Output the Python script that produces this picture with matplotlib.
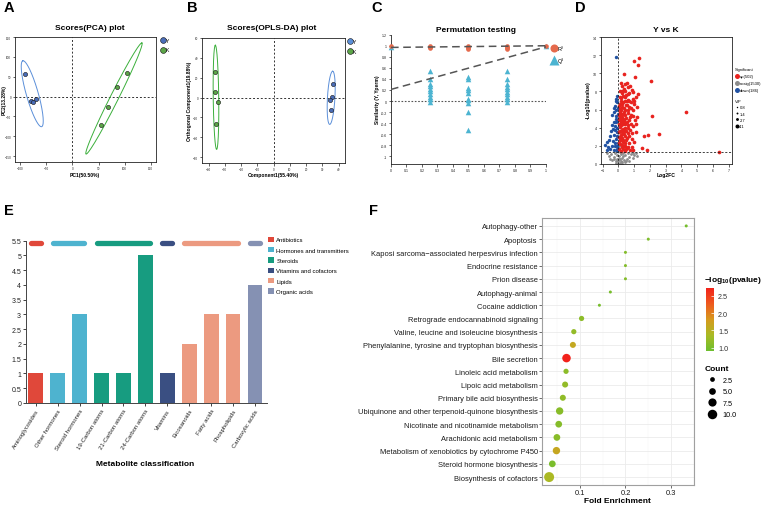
import numpy as np
import matplotlib
matplotlib.use('Agg')
import matplotlib.pyplot as plt
from matplotlib.colors import LinearSegmentedColormap, Normalize
from matplotlib.lines import Line2D
from matplotlib.patches import Patch
import matplotlib.colorbar as mcolorbar

plt.rcParams['font.family'] = ['Liberation Sans', 'DejaVu Sans']
plt.rcParams['mathtext.fontset'] = 'custom'
plt.rcParams['mathtext.rm'] = 'Liberation Sans'
plt.rcParams['mathtext.bf'] = 'Liberation Sans:bold'

# ---------------- DATA ----------------
# A: PCA scores
pca_Y_pc1 = [-90, -80, -76, -69]
pca_Y_pc2 = [56, -11, -15, -7]
pca_K_pc1 = [55, 69, 85, 105]
pca_K_pc2 = [-72, -27, 24, 59]
pca_ell_Y = dict(center=(-77, 7), a=(-18, 83), b=(11, 4))
pca_ell_K = dict(center=(79.5, -5), a=(53.5, 140), b=(7, -4.5))

# B: OPLS-DA scores
opls_K_c1 = [-35.8, -36.2, -34.3, -35.6]
opls_K_o1 = [25.5, 5.1, -4.4, -26.2]
opls_Y_c1 = [36.6, 36.2, 34.7, 35.6]
opls_Y_o1 = [13.6, 0.7, -2.0, -12.6]
opls_ell_K = dict(center=(-35.4, 0.2), a=(-0.4, 52.5), b=(1.7, 0))
opls_ell_Y = dict(center=(35.5, -0.3), a=(0.9, 26.8), b=(2.3, 0))

# C: permutation test
perm_r2_x = [0, 0.25, 0.25, 0.25, 0.25, 0.5, 0.5, 0.5, 0.5, 0.75, 0.75, 0.75, 0.75, 1]
perm_r2 = [1.0, 0.99, 0.98, 0.97, 0.96, 0.99, 0.98, 0.96, 0.95, 0.99, 0.98, 0.96, 0.94, 1.0]
perm_q2_x = [0] + [0.25] * 10 + [0.5] * 10 + [0.75] * 10 + [1]
perm_q2 = ([0.98]
           + [0.55, 0.40, 0.31, 0.27, 0.22, 0.18, 0.13, 0.08, 0.04, -0.02]
           + [0.44, 0.40, 0.24, 0.20, 0.15, 0.04, 0.01, -0.03, -0.20, -0.52]
           + [0.55, 0.40, 0.30, 0.26, 0.22, 0.17, 0.12, 0.07, 0.03, -0.02]
           + [0.99])
r2_line = [0.97, 1.00]   # value at x=0 and x=1
q2_line = [0.21, 0.98]

# D: volcano
up_fc = [1.33, 1.01, 1.24, 0.38, 2.07, 1.05, 1.27, 4.26, 2.10, 1.18, 2.57, 1.90, 1.62, 1.48, 1.81, 6.37, 0.95,
         0.15, 0.25, 0.45, 0.55, 0.62, 0.75, 0.85, 0.35, 0.12, 0.95, 1.10, 0.20, 0.50, 0.70, 0.30, 0.08, 0.90,
         0.60, 0.40, 0.15, 0.80, 1.00, 0.25, 0.55, 0.05, 0.35, 0.70, 0.18, 0.45, 0.90, 0.10, 0.60, 0.30, 0.80,
         0.22, 0.50, 0.05, 0.38, 1.05, 0.70, 0.15, 0.28, 0.58, 0.90, 0.10, 0.45, 0.20, 0.75, 0.33, 0.05, 0.60,
         1.10, 0.15, 0.42, 0.25, 0.85, 0.08, 0.50, 0.30, 0.65, 0.12, 0.40, 0.20, 0.55, 0.06, 0.30, 0.75, 0.15,
         0.45, 0.03, 0.04, 0.06, 0.07, 0.09, 0.11, 0.13, 0.14, 0.17, 0.19, 0.21, 0.23, 0.24, 0.27, 0.29, 0.31,
         0.32, 0.34, 0.36, 0.37, 0.39, 0.41, 0.43, 0.47, 0.48, 0.52, 0.53, 0.57, 0.59, 0.63, 0.66, 0.68, 0.72,
         0.78, 0.82, 0.87, 0.93, 0.98, 1.02, 1.12, 1.15, 0.16, 0.26, 0.44, 0.64, 0.10, 0.20, 0.36, 0.48, 0.62,
         0.88, 0.12, 0.26, 0.09, 0.40]
up_p = [11.74, 11.33, 10.96, 9.90, 9.20, 9.60, 7.74, 5.70, 5.26, 5.15, 3.33, 3.15, 3.04, 1.74, 1.56, 1.33, 1.56,
        8.9, 8.6, 8.8, 8.9, 8.5, 8.6, 8.2, 8.3, 8.1, 7.9, 7.4, 7.8, 7.6, 7.8, 7.5, 7.4, 7.2,
        7.1, 7.0, 6.9, 6.8, 6.6, 6.6, 6.5, 6.4, 6.2, 6.3, 6.0, 5.9, 6.0, 5.7, 5.6, 5.5, 5.4,
        5.2, 5.1, 5.0, 4.9, 4.8, 4.8, 4.6, 4.4, 4.3, 4.2, 4.1, 4.0, 3.8, 3.7, 3.6, 3.5, 3.4,
        3.5, 3.2, 3.1, 2.9, 2.8, 2.7, 2.6, 2.4, 2.3, 2.2, 2.0, 1.9, 1.8, 1.7, 1.6, 1.5, 1.45,
        1.4, 2.3, 3.0, 4.4, 5.4, 6.1, 3.6, 4.9, 2.6, 5.5, 4.3, 3.3, 6.3, 2.1, 5.0, 3.9, 6.8,
        2.7, 4.6, 5.7, 3.3, 7.4, 2.3, 5.4, 6.5, 3.6, 4.6, 7.0, 2.9, 5.9, 4.0, 6.9, 3.1, 5.2,
        4.4, 6.2, 3.4, 5.3, 2.4, 7.0, 4.4, 6.3, 7.3, 8.0, 8.1, 7.7, 6.6, 4.9, 2.0, 1.6, 1.9,
        1.9, 3.0, 3.6, 5.2, 4.4]
down_fc = [-0.17, -0.53, -0.70, -0.84, -0.38, -0.45, -0.60, -0.30, -0.25, -0.20, -0.15, -0.10, -0.08, -0.12,
           -0.05, -0.18, -0.22, -0.06, -0.10, -0.28, -0.15, -0.35, -0.05, -0.40, -0.20, -0.10, -0.50, -0.30,
           -0.08, -0.04, -0.14, -0.32, -0.24, -0.06, -0.13, -0.20, -0.42, -0.65, -0.75, -0.03, -0.09, -0.27,
           -0.12]
down_p = [11.8, 3.1, 2.4, 2.1, 5.4, 3.6, 2.6, 4.6, 5.7, 6.4, 7.2, 7.5, 6.8, 6.0,
          5.5, 5.0, 4.2, 4.0, 3.5, 3.2, 2.8, 2.5, 2.3, 2.0, 2.0, 1.7, 1.6, 1.5,
          1.4, 6.2, 4.6, 3.9, 2.3, 3.1, 5.3, 3.7, 4.3, 1.9, 1.5, 4.8, 2.0, 6.2,
          7.0]
nosig_fc = [-0.60, -0.45, -0.30, -0.20, -0.10, 0.00, 0.05, 0.10, 0.15, 0.20, 0.25, 0.30, 0.35, 0.45, 0.55,
            0.65, 0.80, 0.95, 1.10, 1.20, -0.05, 0.02, -0.02, 0.04, -0.15, 0.08, -0.25, 0.40, 0.60, 0.12,
            -0.38, 0.00, 0.18, -0.08, 0.28, 0.50, 0.70, -0.50, 1.00, 0.22, -0.12, 0.06, 0.90, -0.75]
nosig_p = [0.9, 1.1, 0.8, 1.2, 0.6, 0.3, 0.9, 0.5, 1.1, 0.7, 0.2, 0.9, 0.4, 1.0, 0.6,
           0.8, 1.1, 0.7, 1.2, 0.9, 1.5, 2.0, 1.8, 1.6, 0.3, 0.1, 0.5, 0.2, 1.2, 1.3,
           0.4, 0.05, 0.3, 0.95, 1.2, 0.35, 0.3, 0.6, 1.0, 0.05, 0.15, 0.6, 1.25, 1.2]
p_cut = 1.3

# E: metabolite classification
met_classes = ["Aminoglycosides", "Other hormones", "Steroid hormones", "19-Carbon atoms",
               "21-Carbon atoms", "24-Carbon atoms", "Vitamins", "Eicosanoids", "Fatty acids",
               "Phospholipids", "Carboxylic acids"]
met_counts = [1, 1, 3, 1, 1, 5, 1, 2, 3, 3, 4]
met_groups = ["Antibiotics", "Hormones and transmitters", "Hormones and transmitters", "Steroids",
              "Steroids", "Steroids", "Vitamins and cofactors", "Lipids", "Lipids", "Lipids",
              "Organic acids"]
group_names = ["Antibiotics", "Hormones and transmitters", "Steroids", "Vitamins and cofactors",
               "Lipids", "Organic acids"]
group_colors = ["#E0483A", "#4EB3CF", "#179C80", "#3A4F82", "#EC9A80", "#8591B3"]

# F: KEGG enrichment
pathways = ["Autophagy-other", "Apoptosis", "Kaposi sarcoma\u2212associated herpesvirus infection",
            "Endocrine resistance", "Prion disease", "Autophagy-animal", "Cocaine addiction",
            "Retrograde endocannabinoid signaling", "Valine, leucine and isoleucine biosynthesis",
            "Phenylalanine, tyrosine and tryptophan biosynthesis", "Bile secretion",
            "Linoleic acid metabolism", "Lipoic acid metabolism", "Primary bile acid biosynthesis",
            "Ubiquinone and other terpenoid-quinone biosynthesis",
            "Nicotinate and nicotinamide metabolism", "Arachidonic acid metabolism",
            "Metabolism of xenobiotics by cytochrome P450", "Steroid hormone biosynthesis",
            "Biosynthesis of cofactors"]
fold_enrich = [0.333, 0.25, 0.2, 0.2, 0.2, 0.167, 0.143, 0.104, 0.087, 0.085, 0.071,
               0.070, 0.068, 0.063, 0.056, 0.054, 0.050, 0.049, 0.040, 0.033]
path_count = [1, 1, 1, 1, 1, 1, 1, 3, 3, 4, 8, 3, 4, 4, 6, 5, 5, 6, 5, 11]
path_logp = [0.98, 1.05, 1.08, 1.08, 1.08, 1.0, 1.0, 1.15, 1.2, 1.62, 2.72, 1.15, 1.2, 1.18,
             1.12, 1.1, 1.12, 1.65, 1.02, 1.38]
count_breaks = [2.5, 5.0, 7.5, 10.0]
logp_breaks = [1.0, 1.5, 2.0, 2.5]

# ---------------- FIGURE ----------------
W, H = 765, 506
fig = plt.figure(figsize=(W / 100, H / 100), dpi=100)


def axpx(l, t, r, b):
    return fig.add_axes([l / W, 1 - b / H, (r - l) / W, (b - t) / H])


def ftext(x, y, s, **kw):
    kw.setdefault('ha', 'center')
    kw.setdefault('va', 'center')
    return fig.text(x / W, 1 - y / H, s, **kw)


def figanchor(x, y):
    return (x / W, 1 - y / H)


tt = np.linspace(0, 2 * np.pi, 300)


def draw_ellipse(ax, e, color):
    cx, cy = e['center']
    ax.plot(cx + e['a'][0] * np.cos(tt) + e['b'][0] * np.sin(tt),
            cy + e['a'][1] * np.cos(tt) + e['b'][1] * np.sin(tt), color=color, lw=0.7)


def small_box(ax, fs):
    for s in ax.spines.values():
        s.set_linewidth(0.6)
        s.set_color('#222222')
    ax.tick_params(labelsize=fs, length=1.8, width=0.5, pad=1, colors='#222222')


blue_pt = '#4A6DB8'
green_pt = '#5CA548'
blue_ell = '#5B8FD9'
green_ell = '#3BAF3B'

# Panel letters
for (lx, ly, L) in [(8.5, 8, 'A'), (192.5, 8, 'B'), (377, 8, 'C'), (580, 8, 'D'), (8.5, 211, 'E'), (374, 211, 'F')]:
    ftext(lx, ly, L, fontsize=10.5, fontweight='bold')

# ---- A ----
axA = axpx(15, 38, 156, 163)
axA.axhline(0, color='#333333', lw=0.7, ls=(0, (2, 2)))
axA.axvline(0, color='#333333', lw=0.7, ls=(0, (2, 2)))
draw_ellipse(axA, pca_ell_Y, blue_ell)
draw_ellipse(axA, pca_ell_K, green_ell)
axA.scatter(pca_Y_pc1, pca_Y_pc2, s=9, c=blue_pt, edgecolors='#111111', linewidths=0.4, zorder=3)
axA.scatter(pca_K_pc1, pca_K_pc2, s=9, c=green_pt, edgecolors='#111111', linewidths=0.4, zorder=3)
axA.set_xlim(-110, 160)
axA.set_ylim(-165, 150)
axA.set_xticks([-100, -50, 0, 50, 100, 150])
axA.set_yticks([-150, -100, -50, 0, 50, 100, 150])
small_box(axA, 2.2)
ftext(90, 29, 'Scores(PCA) plot', fontsize=6, fontweight='bold')
ftext(85, 175, 'PC1(50.50%)', fontsize=3.6, fontweight='bold')
ftext(4, 100, 'PC2(13.28%)', fontsize=3.6, fontweight='bold', rotation=90)
hA = [Line2D([], [], marker='o', ls='', ms=4.2, mfc=blue_pt, mec='#111111', mew=0.4),
      Line2D([], [], marker='o', ls='', ms=4.2, mfc=green_pt, mec='#111111', mew=0.4)]
fig.legend(hA, ['Y', 'K'], loc='upper left', bbox_to_anchor=figanchor(160, 39), frameon=False,
           fontsize=3.6, handlelength=1.0, handletextpad=0.2, labelspacing=0.9, borderpad=0, borderaxespad=0)

# ---- B ----
axB = axpx(202, 39, 345, 164)
axB.axhline(0, color='#333333', lw=0.7, ls=(0, (2, 2)))
axB.axvline(0, color='#333333', lw=0.7, ls=(0, (2, 2)))
draw_ellipse(axB, opls_ell_K, green_ell)
draw_ellipse(axB, opls_ell_Y, blue_ell)
axB.scatter(opls_K_c1, opls_K_o1, s=9, c=green_pt, edgecolors='#111111', linewidths=0.4, zorder=3)
axB.scatter(opls_Y_c1, opls_Y_o1, s=9, c=blue_pt, edgecolors='#111111', linewidths=0.4, zorder=3)
axB.set_xlim(-44, 44)
axB.set_ylim(-66, 60)
axB.set_xticks(range(-40, 41, 10))
axB.set_yticks(range(-60, 61, 20))
small_box(axB, 2.2)
ftext(272, 29, 'Scores(OPLS-DA) plot', fontsize=6, fontweight='bold')
ftext(273, 176, 'Component1(55.40%)', fontsize=3.6, fontweight='bold')
ftext(189, 101, 'Orthogonal Component1(19.88%)', fontsize=3.6, fontweight='bold', rotation=90)
hB = [Line2D([], [], marker='o', ls='', ms=4.2, mfc=blue_ell, mec='#111111', mew=0.4),
      Line2D([], [], marker='o', ls='', ms=4.2, mfc=green_pt, mec='#111111', mew=0.4)]
fig.legend(hB, ['Y', 'K'], loc='upper left', bbox_to_anchor=figanchor(347, 40), frameon=False,
           fontsize=3.6, handlelength=1.0, handletextpad=0.1, labelspacing=0.9, borderpad=0, borderaxespad=0)

# ---- C ----
red_c = '#E56A4C'
blue_c = '#4CB4D1'
axC = axpx(391, 35.7, 546, 165)
axC.set_xlim(0, 1)
axC.set_ylim(-1.14, 1.2)
axC.plot([0, 1], [0, 0], color='#555555', lw=0.8, ls=(0, (1.5, 1.5)))
axC.scatter(perm_q2_x, perm_q2, s=16, marker='^', c=blue_c, linewidths=0, zorder=3, clip_on=False)
axC.scatter(perm_r2_x, perm_r2, s=11, marker='o', c=red_c, linewidths=0, zorder=4, clip_on=False)
axC.plot([0, 1], r2_line, color='#555555', lw=1.1, ls=(0, (5, 3)), zorder=5)
axC.plot([0, 1], q2_line, color='#555555', lw=1.1, ls=(0, (5, 3)), zorder=5)
axC.set_xticks(np.round(np.arange(0, 1.01, 0.1), 1))
axC.set_xticklabels(['%g' % v for v in np.round(np.arange(0, 1.01, 0.1), 1)])
yt = np.round(np.arange(-1, 1.21, 0.2), 1)
axC.set_yticks(yt)
axC.set_yticklabels(['%g' % (v if abs(v) > 1e-9 else 0) for v in yt])
axC.spines['top'].set_visible(False)
axC.spines['right'].set_visible(False)
small_box(axC, 2.6)
ftext(476, 31, 'Permutation testing', fontsize=6, fontweight='bold')
ftext(378, 100, 'Similarity (Y, Yperm)', fontsize=3.6, fontweight='bold', rotation=90)
hC = [Line2D([], [], marker='o', ls='', ms=5.8, mfc=red_c, mec='none'),
      Line2D([], [], marker='^', ls='', ms=6.5, mfc=blue_c, mec='none')]
fig.legend(hC, ['R\u00b2', 'Q\u00b2'], loc='upper left', bbox_to_anchor=figanchor(551, 47), frameon=False,
           fontsize=4, handlelength=1.0, handletextpad=0.2, labelspacing=1.1, borderpad=0, borderaxespad=0)

# ---- D ----
red_d = '#E8231F'
blue_d = '#2152A3'
gray_d = '#8C8C8C'
axD = axpx(601, 38, 732, 165)
axD.scatter(nosig_fc, nosig_p, s=4, c=gray_d, linewidths=0, zorder=2)
axD.scatter(down_fc, down_p, s=6, c=blue_d, linewidths=0, zorder=3)
axD.scatter(up_fc, up_p, s=7, c=red_d, linewidths=0, zorder=4)
axD.axvline(0, color='#222222', lw=0.6, ls=(0, (2.5, 2)), zorder=5)
axD.axhline(p_cut, color='#222222', lw=0.6, ls=(0, (2.5, 2)), zorder=5)
axD.set_xlim(-1.1, 7.2)
axD.set_ylim(0, 14)
axD.set_xticks(range(-1, 8))
axD.set_yticks(range(0, 15, 2))
small_box(axD, 2.6)
ftext(666, 30, 'Y vs K', fontsize=6, fontweight='bold')
ftext(666, 175.5, 'Log2FC', fontsize=3.6, fontweight='bold')
ftext(588, 100, '-Log10(pvalue)', fontsize=3.8, fontweight='bold', rotation=90)
hD = [Line2D([], [], marker='o', ls='', ms=3.6, mfc=red_d, mec='none'),
      Line2D([], [], marker='o', ls='', ms=3.6, mfc=gray_d, mec='none'),
      Line2D([], [], marker='o', ls='', ms=3.6, mfc=blue_d, mec='none')]
legD = fig.legend(hD, ['up(502)', 'nosig(1530)', 'down(186)'], loc='upper left',
                  bbox_to_anchor=figanchor(735, 68), frameon=False, fontsize=3.0, title='Significant',
                  title_fontsize=3.0, alignment='left', handlelength=0.9, handletextpad=0.15,
                  labelspacing=0.75, borderpad=0, borderaxespad=0)
vip_vals = [0.8, 1.4, 2.7, 4.1]
hV = [Line2D([], [], marker='o', ls='', ms=0.6 + 0.55 * v, mfc='black', mec='none') for v in vip_vals]
fig.legend(hV, ['%g' % v for v in vip_vals], loc='upper left', bbox_to_anchor=figanchor(735, 100),
           frameon=False, fontsize=3.0, title='VIP', title_fontsize=3.0, alignment='left',
           handlelength=0.9, handletextpad=0.15, labelspacing=0.55, borderpad=0, borderaxespad=0)

# ---- E ----
axE = axpx(26, 241.7, 267, 404)
gcol = {g: c for g, c in zip(group_names, group_colors)}
xs = np.arange(len(met_classes))
axE.bar(xs, met_counts, width=0.68, color=[gcol[g] for g in met_groups], zorder=2)
for g in group_names:
    idx = [i for i, gg in enumerate(met_groups) if gg == g]
    axE.plot([min(idx) - 0.34 + 0.12, max(idx) + 0.34 - 0.12], [5.43, 5.43], color=gcol[g], lw=3.8,
             solid_capstyle='round', clip_on=False, zorder=3)
axE.set_xlim(-0.45, len(met_classes) - 0.45)
axE.set_ylim(0, 5.5)
axE.set_yticks(np.arange(0, 5.51, 0.5))
axE.set_yticklabels(['%g' % v for v in np.arange(0, 5.51, 0.5)])
axE.set_xticks(xs)
axE.set_xticklabels(met_classes, rotation=58, ha='right', rotation_mode='anchor')
axE.spines['top'].set_visible(False)
axE.spines['right'].set_visible(False)
for s in ['left', 'bottom']:
    axE.spines[s].set_color('#444444')
    axE.spines[s].set_linewidth(0.7)
axE.tick_params(axis='y', labelsize=5, length=2.5, width=0.6, pad=1, colors='#222222')
axE.tick_params(axis='x', labelsize=4.3, length=2.5, width=0.6, pad=1, colors='#222222')
ftext(145, 465, 'Metabolite classification', fontsize=6, fontweight='bold')
hE = [Patch(facecolor=c, edgecolor='none') for c in group_colors]
fig.legend(hE, group_names, loc='upper left', bbox_to_anchor=figanchor(267.5, 237.5), frameon=False,
           fontsize=4.3, handlelength=1.15, handleheight=1.0, handletextpad=0.35, labelspacing=0.78,
           borderpad=0, borderaxespad=0)

# ---- F ----
cmap = LinearSegmentedColormap.from_list('enr', ['#6CBE2E', '#A9BA24', '#D69A1E', '#EE5A1E', '#F2221B'])
norm = Normalize(0.91, 2.72)
axF = axpx(542, 219, 694, 486)
n = len(pathways)
ypos = np.arange(n)[::-1]
axF.set_xlim(0.0174, 0.348)
axF.set_ylim(-0.6, n - 0.4)
axF.set_xticks([0.1, 0.2, 0.3])
axF.set_xticks([0.05, 0.15, 0.25, 0.35], minor=True)
axF.set_yticks(ypos)
axF.set_yticklabels(pathways)
axF.grid(which='major', color='#EBEBEB', lw=0.6, zorder=0)
axF.grid(which='minor', axis='x', color='#F3F3F3', lw=0.35, zorder=0)
axF.set_axisbelow(True)
axF.scatter(fold_enrich, ypos, s=[4.7 * c for c in path_count], c=path_logp, cmap=cmap, norm=norm,
            linewidths=0, zorder=3)
for s in axF.spines.values():
    s.set_color('#A0A0A0')
    s.set_linewidth(0.8)
axF.tick_params(which='major', labelsize=5.4, length=2, width=0.5, pad=1, colors='#333333', labelcolor='#1a1a1a')
axF.tick_params(which='minor', length=0)
ftext(617, 502, 'Fold Enrichment', fontsize=6, fontweight='bold')

cax = axpx(706, 289, 714, 352)
cb = mcolorbar.ColorbarBase(cax, cmap=cmap, norm=norm, orientation='vertical')
cb.outline.set_visible(False)
cb.set_ticks(logp_breaks)
cb.set_ticklabels(['%.1f' % v for v in logp_breaks])
cax.tick_params(labelsize=5.2, length=2, width=0.5, color='white', direction='in', pad=3, labelcolor='#333333')
ftext(704, 281, r'$\mathbf{-log_{10}(pvalue)}$', fontsize=6, ha='left')

hF = [Line2D([], [], marker='o', ls='', ms=2.16 * np.sqrt(v), mfc='black', mec='none') for v in count_breaks]
fig.legend(hF, ['%.1f' % v for v in count_breaks], loc='upper left', bbox_to_anchor=figanchor(705, 366),
           frameon=False, fontsize=5.2, title='Count', title_fontsize=6, alignment='left',
           handlelength=2.0, handletextpad=0.45, labelspacing=0.62, borderpad=0, borderaxespad=0)
leg = fig.legends[-1]
leg.get_title().set_fontweight('bold')

fig.savefig('out.png', dpi=100)
